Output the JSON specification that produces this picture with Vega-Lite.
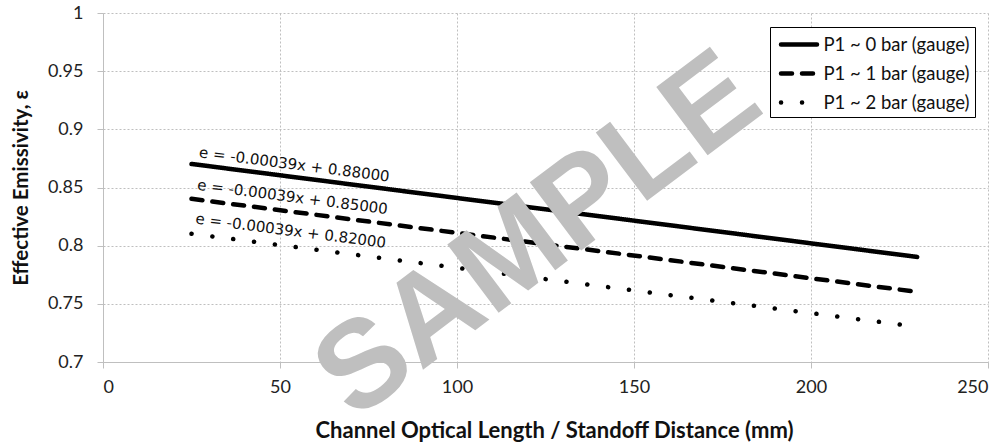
{
  "$schema": "https://vega.github.io/schema/vega-lite/v6.json",
  "width": 885,
  "height": 349,
  "autosize": {"type": "none"},
  "padding": {"left": 103, "top": 13, "right": 20, "bottom": 82},
  "background": "white",
  "config": {
    "view": {"stroke": null},
    "font": "Lato",
    "axis": {
      "labelFont": "Lato",
      "labelFontSize": 18,
      "labelColor": "#222222",
      "titleFont": "Lato",
      "titleFontWeight": "bold",
      "titleColor": "#111111",
      "domainColor": "#bfbfbf",
      "tickColor": "#bfbfbf",
      "tickSize": 6,
      "gridColor": "#bfbfbf",
      "gridDash": [2, 2],
      "gridWidth": 1
    }
  },
  "datasets": {
    "lines": [
      {"series": "P1 ~ 0 bar (gauge)", "x": 25, "e": 0.87025},
      {"series": "P1 ~ 0 bar (gauge)", "x": 230, "e": 0.7903},
      {"series": "P1 ~ 1 bar (gauge)", "x": 25, "e": 0.84025},
      {"series": "P1 ~ 1 bar (gauge)", "x": 230, "e": 0.7603},
      {"series": "P1 ~ 2 bar (gauge)", "x": 25, "e": 0.81025},
      {"series": "P1 ~ 2 bar (gauge)", "x": 230, "e": 0.7303}
    ],
    "labels": [
      {"x": 27, "e": 0.876, "label": "e = -0.00039x + 0.88000"},
      {"x": 26.5, "e": 0.848, "label": "e = -0.00039x + 0.85000"},
      {"x": 26, "e": 0.819, "label": "e = -0.00039x + 0.82000"}
    ],
    "watermark": [
      {"x": 123, "e": 0.808, "label": "SAMPLE"}
    ]
  },
  "layer": [
    {
      "data": {"name": "lines"},
      "mark": {"type": "line", "color": "black", "strokeWidth": 4.5, "strokeCap": "round"},
      "encoding": {
        "x": {
          "field": "x", "type": "quantitative",
          "scale": {"domain": [0, 250], "nice": false},
          "axis": {"values": [0, 50, 100, 150, 200, 250], "title": "Channel Optical Length / Standoff Distance (mm)", "titleFontSize": 22, "titleX": 451, "labelPadding": 10, "titlePadding": 24}
        },
        "y": {
          "field": "e", "type": "quantitative",
          "scale": {"domain": [0.7, 1], "nice": false, "zero": false},
          "axis": {"values": [0.7, 0.75, 0.8, 0.85, 0.9, 0.95, 1], "format": ".2~f", "title": "Effective Emissivity, ε", "titleFontSize": 20.5, "labelPadding": 14, "titlePadding": 16}
        },
        "strokeDash": {
          "field": "series", "type": "nominal",
          "scale": {
            "domain": ["P1 ~ 0 bar (gauge)", "P1 ~ 1 bar (gauge)", "P1 ~ 2 bar (gauge)"],
            "range": [[1, 0], [11, 10], [0.1, 20.9]]
          },
          "legend": {
            "title": null,
            "orient": "none",
            "legendX": 667,
            "legendY": 14,
            "strokeColor": "black",
            "fillColor": "white",
            "padding": 5,
            "symbolType": "M-1.8,0L1.8,0",
            "symbolSize": 400,
            "symbolOffset": 11.5,
            "symbolStrokeWidth": 4.5,
            "symbolStrokeColor": "black",
            "labelFont": "Lato",
            "labelFontSize": 18.5,
            "labelColor": "#111111",
            "labelOffset": 12,
            "rowPadding": 7,
            "encode": {"symbols": {"update": {"strokeCap": {"value": "round"}}}}
          }
        }
      }
    },
    {
      "data": {"name": "labels"},
      "mark": {"type": "text", "font": "DejaVu Sans", "fontSize": 15, "angle": 7.3, "align": "left", "baseline": "alphabetic", "color": "#111111"},
      "encoding": {
        "x": {"field": "x", "type": "quantitative"},
        "y": {"field": "e", "type": "quantitative"},
        "text": {"field": "label"}
      }
    },
    {
      "data": {"name": "watermark"},
      "mark": {"type": "text", "font": "Liberation Sans", "fontWeight": "bold", "fontSize": 124, "angle": -37, "align": "center", "baseline": "middle", "color": "#bfbfbf"},
      "encoding": {
        "x": {"field": "x", "type": "quantitative"},
        "y": {"field": "e", "type": "quantitative"},
        "text": {"field": "label"}
      }
    }
  ]
}
